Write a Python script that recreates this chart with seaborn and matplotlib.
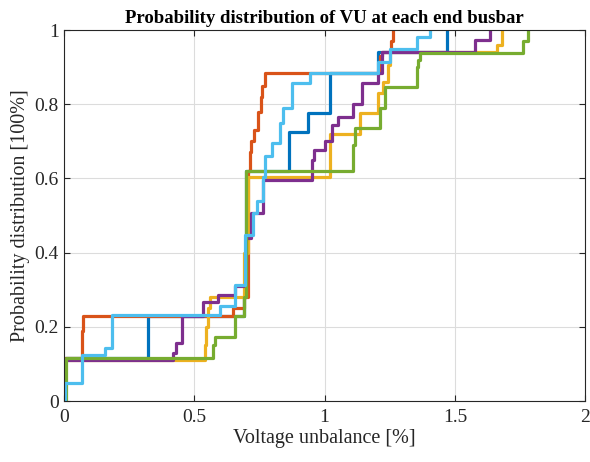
import numpy as np
import pandas as pd
import matplotlib
matplotlib.use("Agg")
import matplotlib.pyplot as plt
import seaborn as sns

# step points of each empirical CDF (value at x holds until the next x)
blue_x = [0, 0.003, 0.323, 0.69, 0.699, 0.864, 0.937, 1.02, 1.205, 1.47]
blue_y = [0, 0.115, 0.23, 0.28, 0.62, 0.725, 0.776, 0.885, 0.94, 1.0]

orange_x = [0, 0.004, 0.069, 0.075, 0.65, 0.69, 0.705, 0.714, 0.72, 0.73, 0.745,
            0.755, 0.762, 0.77, 1.213, 1.22, 1.255, 1.263]
orange_y = [0, 0.115, 0.19, 0.23, 0.25, 0.28, 0.62, 0.67, 0.70, 0.73, 0.78,
            0.82, 0.85, 0.885, 0.93, 0.94, 0.97, 1.0]

yellow_x = [0, 0.005, 0.541, 0.547, 0.552, 0.56, 0.69, 0.705, 1.02, 1.136,
            1.206, 1.225, 1.244, 1.25, 1.66, 1.68]
yellow_y = [0, 0.11, 0.15, 0.2, 0.25, 0.28, 0.40, 0.605, 0.72, 0.776,
            0.83, 0.86, 0.905, 0.94, 0.96, 1.0]

purple_x = [0, 0.005, 0.42, 0.43, 0.453, 0.534, 0.59, 0.656, 0.70, 0.72, 0.764,
            0.952, 0.96, 1.0, 1.03, 1.05, 1.11, 1.145, 1.205, 1.22, 1.578, 1.635]
purple_y = [0, 0.11, 0.13, 0.156, 0.23, 0.267, 0.286, 0.31, 0.44, 0.506, 0.596,
            0.65, 0.676, 0.70, 0.745, 0.765, 0.80, 0.857, 0.884, 0.94, 0.973, 1.0]

green_x = [0, 0.01, 0.572, 0.58, 0.656, 0.69, 0.70, 1.11, 1.117, 1.213, 1.232,
           1.355, 1.36, 1.365, 1.762, 1.78]
green_y = [0, 0.115, 0.15, 0.172, 0.23, 0.28, 0.62, 0.69, 0.736, 0.79, 0.846,
           0.9, 0.92, 0.938, 0.97, 1.0]

lightblue_x = [0, 0.003, 0.069, 0.157, 0.184, 0.6, 0.656, 0.695, 0.726, 0.74,
               0.764, 0.77, 0.8, 0.83, 0.84, 0.875, 0.944, 1.205, 1.25, 1.355, 1.405]
lightblue_y = [0, 0.048, 0.124, 0.143, 0.232, 0.255, 0.313, 0.447, 0.507, 0.54,
               0.604, 0.66, 0.695, 0.75, 0.79, 0.857, 0.884, 0.913, 0.95, 0.98, 1.0]

series = {
    "bus1": (blue_x, blue_y),
    "bus2": (orange_x, orange_y),
    "bus3": (yellow_x, yellow_y),
    "bus4": (purple_x, purple_y),
    "bus5": (green_x, green_y),
    "bus6": (lightblue_x, lightblue_y),
}
colors = ["#0072BD", "#D95319", "#EDB120", "#7E2F8E", "#77AC30", "#4DBEEE"]

rows = []
for name, (xs, ys) in series.items():
    for x, y in zip(xs, ys):
        rows.append({"bus": name, "vu": x, "p": y})
df = pd.DataFrame(rows)

sns.set_theme(style="ticks")
plt.rcParams["font.family"] = ["Liberation Serif", "DejaVu Serif"]

fig = plt.figure(figsize=(5.9, 4.62), dpi=100)
ax = fig.add_axes([0.108, 0.132, 0.884, 0.803])

sns.lineplot(data=df, x="vu", y="p", hue="bus", palette=colors, estimator=None,
             sort=False, drawstyle="steps-post", linewidth=2.3, legend=False, ax=ax)

ax.set_xlim(0, 2)
ax.set_ylim(0, 1)
ax.set_xticks([0, 0.5, 1, 1.5, 2])
ax.set_xticklabels(["0", "0.5", "1", "1.5", "2"])
ax.set_yticks([0, 0.2, 0.4, 0.6, 0.8, 1])
ax.set_yticklabels(["0", "0.2", "0.4", "0.6", "0.8", "1"])
ax.grid(True, color="#dcdcdc", linewidth=0.8)
ax.set_axisbelow(True)
ax.tick_params(direction="in", length=4, width=0.8, colors="#262626",
               labelsize=14, labelcolor="#262626", top=True, right=True,
               labeltop=False, labelright=False)
ax.tick_params(axis="x", pad=6)
for s in ax.spines.values():
    s.set_visible(True)
    s.set_color("#262626")
    s.set_linewidth(0.8)

ax.set_xlabel("Voltage unbalance [%]", fontsize=14.5, color="#262626", labelpad=2)
ax.set_ylabel("Probability distribution [100%]", fontsize=14.5, color="#262626", labelpad=3)
ax.set_title("Probability distribution of VU at each end busbar", fontsize=13.5,
             fontweight="bold", color="black", pad=5)

fig.savefig("out.png", dpi=100)
